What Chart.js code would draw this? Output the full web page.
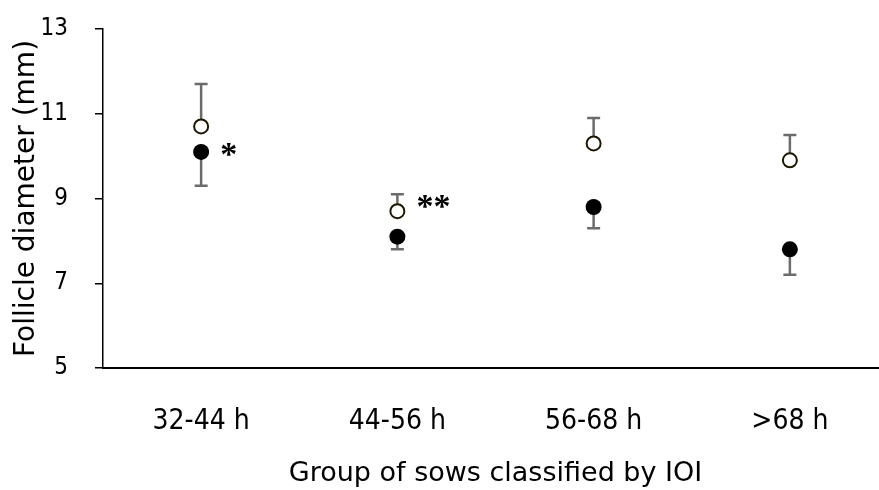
<!DOCTYPE html>
<html>
<head>
<meta charset="utf-8">
<script src="https://cdn.jsdelivr.net/npm/chart.js@4/dist/chart.umd.min.js"></script>
<style>
  html, body { margin: 0; padding: 0; background: #fff; overflow: hidden; }
  #wrap { width: 900px; height: 490px; }
</style>
</head>
<body>
<div id="wrap"><canvas id="chart"></canvas></div>
<script>
const groups = ["32-44 h", "44-56 h", "56-68 h", ">68 h"];
const openMeans = [10.7, 8.7, 10.3, 9.9];
const openErr = [1.0, 0.4, 0.6, 0.6];
const filledMeans = [10.1, 8.1, 8.8, 7.8];
const filledErr = [0.8, 0.3, 0.5, 0.6];
const yMin = 5;
const yMax = 13;
const yStep = 2;
const sigMarks = ["*", "**", "", ""];
const sigSeries = [1, 0, null, null]; // dataset index each mark sits beside

// SE bars: open circles get the upper whisker, filled ones the lower
const errorBars = {
  id: "errorBars",
  beforeDatasetsDraw(chart) {
    const { ctx, scales: { y } } = chart;
    ctx.save();
    ctx.strokeStyle = "#6b6b6b";
    ctx.lineWidth = 2.5;
    chart.data.datasets.forEach((ds, di) => {
      chart.getDatasetMeta(di).data.forEach((pt, i) => {
        const y0 = y.getPixelForValue(ds.data[i]);
        const y1 = y.getPixelForValue(ds.data[i] + ds.errDir * ds.err[i]);
        ctx.beginPath();
        ctx.moveTo(pt.x, y0);
        ctx.lineTo(pt.x, y1);
        ctx.moveTo(pt.x - 6.5, y1);
        ctx.lineTo(pt.x + 6.5, y1);
        ctx.stroke();
      });
    });
    ctx.restore();
  }
};

// asterisks beside the marker; the double one sits a little higher
const markDy = [4, -3, 0, 0];
const sigLabels = {
  id: "sigLabels",
  afterDatasetsDraw(chart) {
    const { ctx } = chart;
    ctx.save();
    ctx.fillStyle = "#000";
    ctx.font = "bold 34px 'Liberation Serif'";
    ctx.textAlign = "left";
    ctx.textBaseline = "middle";
    sigMarks.forEach((mark, i) => {
      if (!mark) return;
      const pt = chart.getDatasetMeta(sigSeries[i]).data[i];
      ctx.fillText(mark, pt.x + 19, pt.y + markDy[i]);
    });
    ctx.restore();
  }
};

new Chart(document.getElementById("chart"), {
  type: "line",
  data: {
    labels: groups,
    datasets: [
      {
        label: "open",
        data: openMeans,
        err: openErr,
        errDir: 1,
        showLine: false,
        pointRadius: 7,
        pointBorderWidth: 2,
        pointBackgroundColor: "#fff",
        pointBorderColor: "#1e1700",
      },
      {
        label: "filled",
        data: filledMeans,
        err: filledErr,
        errDir: -1,
        showLine: false,
        pointRadius: 8,
        pointBorderWidth: 0,
        pointBackgroundColor: "#000",
        pointBorderColor: "#000",
      },
    ],
  },
  options: {
    responsive: true,
    maintainAspectRatio: false,
    animation: false,
    layout: { padding: { top: 29, right: 12, left: 0, bottom: 0 } },
    plugins: {
      legend: { display: false },
      tooltip: { enabled: false },
    },
    scales: {
      x: {
        type: "category",
        offset: true,
        grid: { display: false, drawTicks: false },
        border: { color: "#000", width: 2 },
        ticks: {
          color: "#000",
          padding: 37,
          font: { family: "'DejaVu Sans Condensed', 'DejaVu Sans'", size: 28 },
        },
        title: {
          display: true,
          text: "Group of sows classified by IOI",
          color: "#000",
          padding: { top: 0, bottom: 0 },
          font: { family: "'DejaVu Sans'", size: 27 },
        },
        afterFit(scale) {
          scale.height = 122;
          scale.paddingLeft = 0;
          scale.paddingRight = 0;
        },
      },
      y: {
        min: yMin,
        max: yMax,
        grid: { drawOnChartArea: false, drawTicks: true, tickLength: 8, color: "#000", lineWidth: 1.5 },
        border: { color: "#000", width: 1.5 },
        ticks: {
          stepSize: yStep,
          color: "#000",
          padding: 27,
          font: { family: "'DejaVu Sans Condensed', 'DejaVu Sans'", size: 24 },
        },
        title: {
          display: true,
          text: "Follicle diameter (mm)",
          color: "#000",
          padding: { top: 10, bottom: 0 },
          font: { family: "'DejaVu Sans'", size: 28 },
        },
        afterFit(scale) {
          scale.width = 103;
          scale.paddingTop = 0;
          scale.paddingBottom = 0;
        },
      },
    },
  },
  plugins: [errorBars, sigLabels],
});
</script>
</body>
</html>
